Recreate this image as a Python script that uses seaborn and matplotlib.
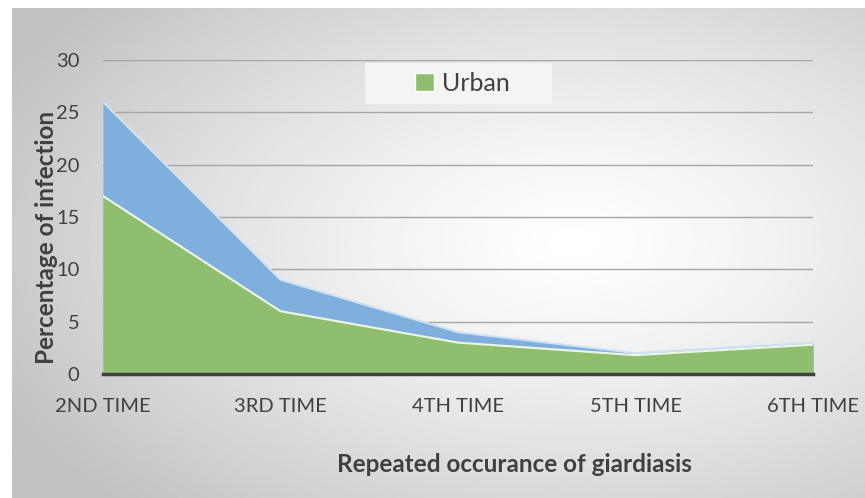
import matplotlib
matplotlib.use("Agg")
import matplotlib.pyplot as plt
from matplotlib.patches import Rectangle, Patch
import seaborn as sns
import pandas as pd
import numpy as np

# data
categories = ["2ND TIME", "3RD TIME", "4TH TIME", "5TH TIME", "6TH TIME"]
rural = [26, 9, 4, 2, 3]
urban = [17, 6, 3, 1.8, 2.8]

df = pd.DataFrame({"occurrence": categories, "Rural": rural, "Urban": urban})
df["pos"] = np.arange(len(categories))

sns.set_theme(style="white")
plt.rcParams["font.family"] = ["Lato", "DejaVu Sans"]

fig = plt.figure(figsize=(8.65, 4.98), dpi=100)

# radial gradient background (white margin at top/left)
bg = fig.add_axes([12 / 865, 0, 1 - 12 / 865, 1 - 8 / 498], zorder=-10)
yy, xx = np.mgrid[0:1:300j, 0:1:500j]
d = np.sqrt(((xx - 0.66) / 0.75) ** 2 + ((yy - 0.48) / 0.75) ** 2)
shade = 1 - 0.24 * np.clip(d, 0, 1) ** 1.3
bg.imshow(shade, cmap="gray", vmin=0, vmax=1, aspect="auto",
          extent=[0, 1, 0, 1], origin="upper", interpolation="bilinear")
bg.axis("off")

ax = fig.add_axes([103 / 865, 1 - 374 / 498, 710 / 865, 314 / 498])
ax.set_facecolor("none")

blue = "#7fb0dd"
green = "#8fbe6f"
ax.fill_between(df["pos"], df["Rural"], color=blue, lw=0, zorder=2)
sns.lineplot(data=df, x="pos", y="Rural", ax=ax, color="#cfe2f3", lw=1.5, zorder=3)
ax.fill_between(df["pos"], df["Urban"], color=green, lw=0, zorder=4)
sns.lineplot(data=df, x="pos", y="Urban", ax=ax, color="#eef6e6", lw=1.5, zorder=5)

ax.set_xlim(0, len(categories) - 1)
ax.set_ylim(0, 30)
ax.set_yticks(range(0, 31, 5))
ax.set_xticks(df["pos"])
ax.set_xticklabels(categories)
ax.tick_params(axis="both", length=0, labelsize=14.5, labelcolor="#404040")
ax.tick_params(axis="y", pad=17)
ax.tick_params(axis="x", pad=17)
ax.yaxis.grid(True, color="#a6a6a6", lw=1)
ax.set_axisbelow(True)
for s in ["top", "right", "left"]:
    ax.spines[s].set_visible(False)
ax.spines["bottom"].set_color("#404040")
ax.spines["bottom"].set_linewidth(2.5)
ax.spines["bottom"].set_zorder(6)

ax.set_ylabel("Percentage of infection", fontsize=17.5, fontweight="bold",
              color="#404040")
ax.yaxis.set_label_coords(-0.064, 0.435)
ax.set_xlabel("Repeated occurance of giardiasis", fontsize=17.5,
              fontweight="bold", color="#404040")
ax.xaxis.set_label_coords(0.58, -0.25)

# legend (only Urban shown)
ax.add_patch(Rectangle((0.369, 0.86), 0.263, 0.13, transform=ax.transAxes,
                       facecolor="#f4f4f4", edgecolor="none", zorder=7))
leg = ax.legend(handles=[Patch(facecolor=green, label="Urban")],
                loc="center", bbox_to_anchor=(0.506, 0.925), frameon=False,
                fontsize=18, handlelength=0.75, handleheight=0.75,
                handletextpad=0.3)
leg.set_zorder(8)
for t in leg.get_texts():
    t.set_color("#404040")

fig.savefig("out.png", dpi=100)
